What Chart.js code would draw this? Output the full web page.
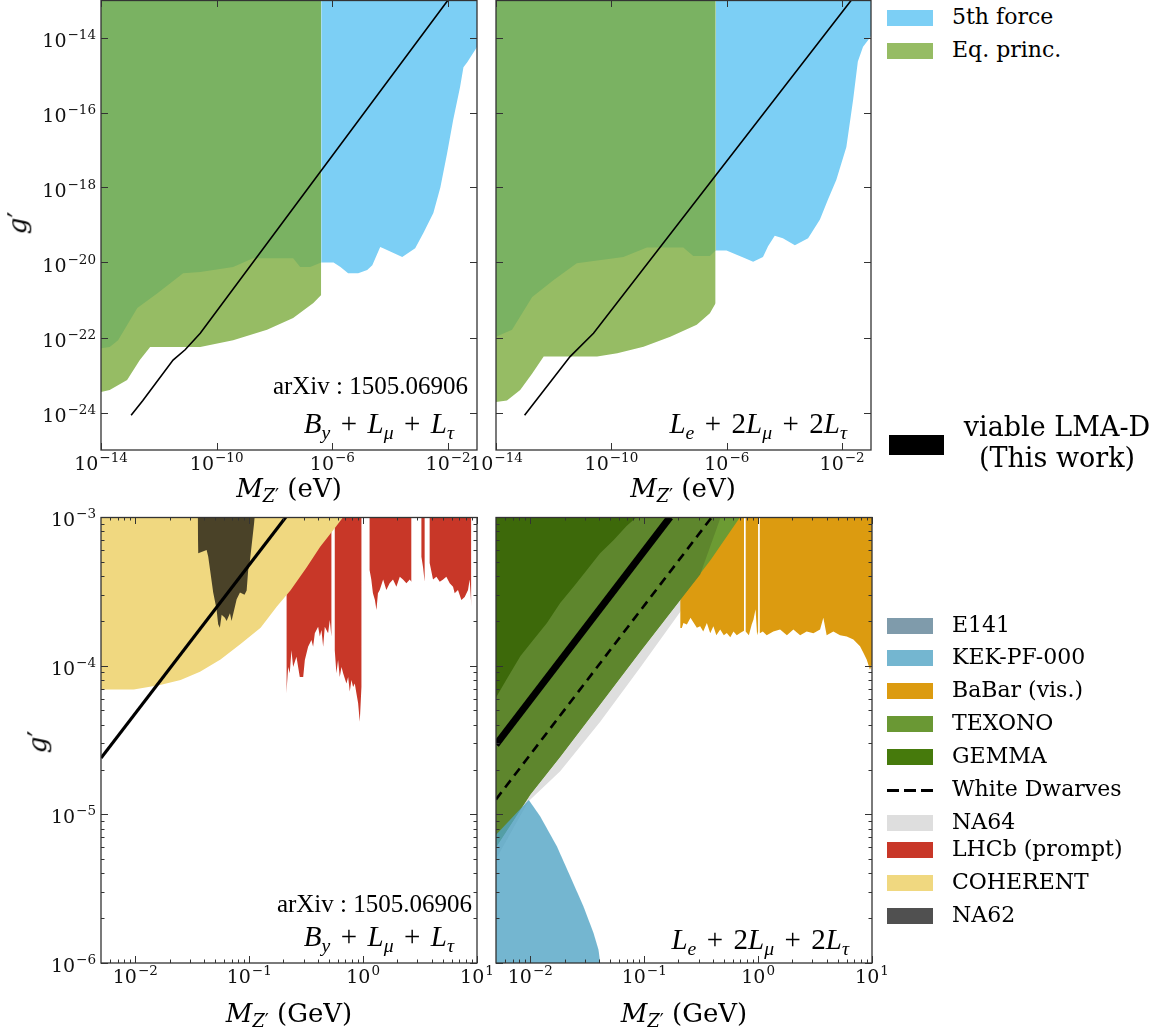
<!DOCTYPE html>
<html>
<head>
<meta charset="utf-8">
<script src="https://cdn.jsdelivr.net/npm/chart.js@4.4.0/dist/chart.umd.min.js"></script>
<style>
  body { margin: 0; background: #fff; width: 1164px; height: 1030px; position: relative; overflow: hidden; font-family: "DejaVu Serif", serif; color: #000; }
  canvas { position: absolute; }
  .txt { position: absolute; white-space: nowrap; }
  .leg { position: absolute; left: 887px; height: 22px; line-height: 22px; font-size: 22px; white-space: nowrap; }
  .leg .sw { position: absolute; left: 0; top: 2px; width: 46px; height: 16px; }
  .leg .dash { position: absolute; left: 0; top: 9px; width: 46px; height: 3px; background: repeating-linear-gradient(to right, #000 0 12px, transparent 12px 17px); }
  .leg .lb { position: absolute; left: 65px; top: -2px; }
  .math { font-family: "Liberation Serif", serif; }
  .op { margin: 0 0.36em; }
  .sub { font-size: 0.68em; position: relative; top: 0.3em; }
  .axt { font-size: 26px; text-align: center; width: 300px; }
</style>
</head>
<body>
<canvas id="tl" width="480" height="480" style="left:0;top:0"></canvas>
<canvas id="tr" width="420" height="480" style="left:460px;top:0"></canvas>
<canvas id="bl" width="500" height="500" style="left:0;top:500px"></canvas>
<canvas id="br" width="440" height="500" style="left:460px;top:500px"></canvas>

<!-- axis titles -->
<div class="txt axt" style="left:139px;top:473px"><i>M</i><span class="sub"><i>Z</i>′</span> (eV)</div>
<div class="txt axt" style="left:533px;top:473px"><i>M</i><span class="sub"><i>Z</i>′</span> (eV)</div>
<div class="txt axt" style="left:139px;top:998px"><i>M</i><span class="sub"><i>Z</i>′</span> (GeV)</div>
<div class="txt axt" style="left:534px;top:998px"><i>M</i><span class="sub"><i>Z</i>′</span> (GeV)</div>
<div class="txt" style="left:6px;top:208px;font-size:26px;transform:rotate(-90deg)"><i>g</i>′</div>
<div class="txt" style="left:26px;top:727px;font-size:26px;transform:rotate(-90deg)"><i>g</i>′</div>

<!-- panel annotations -->
<div class="txt math" style="right:696px;top:372px;font-size:25px">arXiv : 1505.06906</div>
<div class="txt math" style="right:710px;top:407px;font-size:29px"><i>B</i><span class="sub"><i>y</i></span><span class="op">+</span><i>L</i><span class="sub"><i>μ</i></span><span class="op">+</span><i>L</i><span class="sub"><i>τ</i></span></div>
<div class="txt math" style="right:317px;top:407px;font-size:29px"><i>L</i><span class="sub"><i>e</i></span><span class="op">+</span>2<i>L</i><span class="sub"><i>μ</i></span><span class="op">+</span>2<i>L</i><span class="sub"><i>τ</i></span></div>
<div class="txt math" style="right:692px;top:890px;font-size:25px">arXiv : 1505.06906</div>
<div class="txt math" style="right:710px;top:920px;font-size:29px"><i>B</i><span class="sub"><i>y</i></span><span class="op">+</span><i>L</i><span class="sub"><i>μ</i></span><span class="op">+</span><i>L</i><span class="sub"><i>τ</i></span></div>
<div class="txt math" style="right:315px;top:923px;font-size:29px"><i>L</i><span class="sub"><i>e</i></span><span class="op">+</span>2<i>L</i><span class="sub"><i>μ</i></span><span class="op">+</span>2<i>L</i><span class="sub"><i>τ</i></span></div>

<!-- legends -->
<div class="leg" style="top:8px"><span class="sw" style="background:#7ccff5"></span><span class="lb">5th force</span></div>
<div class="leg" style="top:41px"><span class="sw" style="background:#96bc64"></span><span class="lb">Eq. princ.</span></div>
<div class="txt" style="left:889px;top:435px;width:55px;height:20px;background:#000"></div>
<div class="txt" style="left:952px;top:411px;width:210px;text-align:center;font-size:27px;line-height:31px">viable LMA-D<br>(This work)</div>

<div class="leg" style="top:616px"><span class="sw" style="background:#7f9bab"></span><span class="lb">E141</span></div>
<div class="leg" style="top:648px"><span class="sw" style="background:#74b6d0"></span><span class="lb">KEK-PF-000</span></div>
<div class="leg" style="top:681px"><span class="sw" style="background:#dc9b10"></span><span class="lb">BaBar (vis.)</span></div>
<div class="leg" style="top:714px"><span class="sw" style="background:#6a9834"></span><span class="lb">TEXONO</span></div>
<div class="leg" style="top:747px"><span class="sw" style="background:#467a0c"></span><span class="lb">GEMMA</span></div>
<div class="leg" style="top:780px"><span class="dash"></span><span class="lb">White Dwarves</span></div>
<div class="leg" style="top:813px"><span class="sw" style="background:#dedede"></span><span class="lb">NA64</span></div>
<div class="leg" style="top:840px"><span class="sw" style="background:#c83728"></span><span class="lb">LHCb (prompt)</span></div>
<div class="leg" style="top:873px"><span class="sw" style="background:#f0d880"></span><span class="lb">COHERENT</span></div>
<div class="leg" style="top:906px"><span class="sw" style="background:#505050"></span><span class="lb">NA62</span></div>

<script>
// axis ranges and tick labels
const topXRange = [1e-14, 1e-1];
const topYRange = [1e-25, 1e-13];
const botXRange = [5e-3, 10];
const botYRange = [1e-6, 1e-3];
const topXTicks = [1e-14, 1e-10, 1e-6, 1e-2];
const topYTicks = [1e-24, 1e-22, 1e-20, 1e-18, 1e-16, 1e-14];
const botXTicks = [1e-2, 1e-1, 1, 10];
const botYTicks = [1e-6, 1e-5, 1e-4, 1e-3];

// top-left: B_y + L_mu + L_tau (eV)
const fifthTL_x = [4.1e-7, 1.1e-6, 1.9e-6, 3.5e-6, 7.8e-6, 1.6e-5, 2.4e-5, 4.5e-5, 5.7e-5, 1.3e-4, 2.6e-4, 7.3e-4, 1.4e-3, 3.1e-3, 5.4e-3, 9.3e-3, 1.5e-2, 2.6e-2, 3.4e-2, 4.6e-2, 1e-1];
const fifthTL_y = [1e-20, 1e-20, 7.6e-21, 5.2e-21, 5.2e-21, 6.3e-21, 8.5e-21, 2.6e-20, 2.4e-20, 1.8e-20, 1.4e-20, 2.4e-20, 6.1e-20, 2.1e-19, 1e-18, 8.3e-18, 6.3e-17, 4.8e-16, 1.6e-15, 2.2e-15, 5.6e-15];
const eqTL_x = [1e-14, 2e-14, 8e-14, 2.2e-13, 5e-13, 2.7e-11, 3.7e-10, 5.5e-9, 4.4e-8, 2.2e-7, 4.1e-7];
const eqTL_y = [3.5e-24, 4e-24, 7.4e-24, 2.5e-23, 5.6e-23, 5.6e-23, 8.5e-23, 1.6e-22, 3.3e-22, 8.3e-22, 1.35e-21];
const eqDarkTL_x = [1e-14, 2e-14, 3.9e-14, 1.8e-13, 8.7e-13, 6.9e-12, 2.7e-11, 3.7e-10, 1.8e-9, 4.4e-8, 7.7e-8, 1.7e-7, 4.1e-7];
const eqDarkTL_y = [5.2e-23, 5.6e-23, 8.5e-23, 6.1e-22, 1.5e-21, 5.2e-21, 5.6e-21, 7.6e-21, 1.3e-20, 1.3e-20, 7.6e-21, 7.6e-21, 1e-20];
const lmaTL_x = [1.1e-13, 2.8e-13, 3.1e-12, 8.1e-12, 2.7e-11, 1e-2];
const lmaTL_y = [8.5e-25, 2.1e-24, 2.5e-23, 4.7e-23, 1.3e-22, 1e-13];

// top-right: L_e + 2L_mu + 2L_tau (eV)
const fifthTR_x = [4.1e-7, 9.8e-7, 2.2e-6, 4.3e-6, 8.2e-6, 1.8e-5, 2.7e-5, 4.6e-5, 8.8e-5, 2.3e-4, 6.6e-4, 1.7e-3, 3.2e-3, 6.3e-3, 1.4e-2, 2.4e-2, 3.5e-2, 5.3e-2, 8.9e-2, 1e-1];
const fifthTR_y = [2.1e-20, 2.1e-20, 1.6e-20, 1.3e-20, 1.05e-20, 1.4e-20, 2.7e-20, 5.2e-20, 4.4e-20, 2.9e-20, 4.4e-20, 1.4e-19, 4.7e-19, 1.6e-18, 1.2e-17, 2.2e-16, 2.3e-15, 5.7e-15, 9.5e-15, 1.1e-14];
const eqTR_x = [1e-14, 2.4e-14, 6.9e-14, 1.8e-13, 4.5e-13, 3.2e-11, 1.6e-10, 1.3e-9, 1.1e-8, 9.1e-8, 2.6e-7, 4.1e-7];
const eqTR_y = [1.9e-24, 2.1e-24, 4e-24, 1.1e-23, 3.1e-23, 3.1e-23, 3.8e-23, 5.7e-23, 1.05e-22, 2.2e-22, 4.4e-22, 8.2e-22];
const eqDarkTR_x = [1e-14, 3.6e-14, 1.8e-13, 1e-12, 6.3e-12, 2.6e-10, 1.7e-9, 3.1e-8, 6.9e-8, 2.6e-7, 4.1e-7];
const eqDarkTR_y = [1.05e-22, 1.6e-22, 1.2e-21, 3.4e-21, 9.5e-21, 1.4e-20, 2.5e-20, 2.5e-20, 1.5e-20, 1.5e-20, 2.1e-20];
const lmaTR_x = [9.8e-14, 3.7e-12, 2.4e-11, 2.1e-2];
const lmaTR_y = [8.5e-25, 3.1e-23, 1.3e-22, 1e-13];

// bottom-left: B_y + L_mu + L_tau (GeV)
const coherent_x = [5e-3, 9.7e-3, 1.65e-2, 2.5e-2, 3.7e-2, 5.6e-2, 8.4e-2, 0.126, 0.175, 0.23, 0.32, 0.42, 0.55, 0.67];
const coherent_y = [6.9e-5, 6.9e-5, 7.4e-5, 8e-5, 9.1e-5, 1.1e-4, 1.4e-4, 1.8e-4, 2.5e-4, 3.2e-4, 4.6e-4, 6.3e-4, 8.2e-4, 1e-3];
const na62_x = [0.0353, 0.0357, 0.0423, 0.0437, 0.0483, 0.0517, 0.0534, 0.0553, 0.0573, 0.0612, 0.0633, 0.0678, 0.070, 0.075, 0.0776, 0.083, 0.091, 0.095, 0.098, 0.101, 0.112];
const na62_y = [1e-3, 5.7e-4, 6e-4, 5.4e-4, 3.1e-4, 2.4e-4, 1.9e-4, 1.8e-4, 2.2e-4, 2.1e-4, 2e-4, 2.25e-4, 2e-4, 2.5e-4, 2.8e-4, 3.1e-4, 3e-4, 3.2e-4, 4.4e-4, 4.9e-4, 1e-3];
const lhcb_x = [0.212, 0.212, 0.220, 0.227, 0.235, 0.243, 0.260, 0.278, 0.298, 0.308, 0.329, 0.352, 0.364, 0.377, 0.403, 0.417, 0.431, 0.446, 0.461, 0.493, 0.510, 0.527, 0.527,
  0.564, 0.564, 0.583, 0.603, 0.624, 0.646, 0.668, 0.714, 0.739, 0.764, 0.790, 0.817, 0.845, 0.874, 0.904, 0.935, 0.967, 0.967,
  1.14, 1.14, 1.18, 1.22, 1.27, 1.31, 1.35, 1.40, 1.50, 1.60, 1.71, 1.83, 1.96, 2.10, 2.24, 2.40, 2.57, 2.65, 2.65,
  3.25, 3.25, 3.36, 3.47, 3.47,
  3.84, 3.84, 4.11, 4.40, 4.71, 5.04, 5.38, 5.76, 6.16, 6.37, 6.81, 7.29, 7.80, 8.34, 8.63, 8.92, 8.92];
const lhcb_y = [1e-3, 6.5e-5, 9.8e-5, 8.9e-5, 1.27e-4, 9.8e-5, 1.15e-4, 8.4e-5, 8.4e-5, 1.09e-4, 1.34e-4, 1.49e-4, 1.34e-4, 1.65e-4, 1.83e-4, 1.57e-4, 1.74e-4, 1.34e-4, 1.83e-4, 1.65e-4, 2.03e-4, 1.57e-4, 1e-3,
  1e-3, 1.27e-4, 8.9e-5, 1.09e-4, 8.4e-5, 9.8e-5, 8.9e-5, 7.6e-5, 8.4e-5, 6.7e-5, 8e-5, 7.2e-5, 7.6e-5, 6.5e-5, 5.6e-5, 4.2e-5, 7.2e-5, 1e-3,
  1e-3, 4.4e-4, 3.8e-4, 3.07e-4, 2.77e-4, 2.37e-4, 3.07e-4, 3.23e-4, 3.8e-4, 3.23e-4, 3.58e-4, 3.8e-4, 3.4e-4, 3.97e-4, 3.8e-4, 3.58e-4, 3.8e-4, 3.67e-4, 1e-3,
  1e-3, 5.4e-4, 4.6e-4, 3.67e-4, 1e-3,
  1e-3, 4.9e-4, 3.8e-4, 3.97e-4, 3.67e-4, 3.8e-4, 3.97e-4, 3.58e-4, 3.4e-4, 3.07e-4, 3.23e-4, 2.77e-4, 2.9e-4, 3.23e-4, 3.8e-4, 2.5e-4, 1e-3];
const lmaBL_x = [5e-3, 0.21];
const lmaBL_y = [2.39e-5, 1e-3];

// bottom-right: L_e + 2L_mu + 2L_tau (GeV)
const na64_x = [5e-3, 9.6e-3, 1.83e-2, 4.11e-2, 9.2e-2, 0.207, 0.31, 0.47];
const na64_y = [5e-6, 1.22e-5, 1.95e-5, 4.2e-5, 9.7e-5, 2.3e-4, 4.1e-4, 1e-3];
const babar_x = [0.207, 0.214, 0.221, 0.237, 0.255, 0.271, 0.29, 0.31, 0.33, 0.355, 0.38, 0.405, 0.43, 0.465, 0.5, 0.531, 0.57, 0.608, 0.65, 0.695, 0.752, 0.752, 0.778, 0.778, 0.83, 0.88, 0.91, 0.95, 0.98, 1.0, 1.0, 1.035, 1.035, 1.1, 1.19, 1.36, 1.56, 1.79, 2.04, 2.34, 2.67, 3.06, 3.5, 3.74, 4.0, 4.58, 5.24, 6.0, 6.86, 7.85, 8.4, 8.98, 9.6, 10];
const babar_y = [1.79e-4, 1.79e-4, 1.94e-4, 1.89e-4, 2.1e-4, 1.95e-4, 1.8e-4, 1.84e-4, 1.7e-4, 1.94e-4, 1.65e-4, 1.84e-4, 1.6e-4, 1.75e-4, 1.6e-4, 1.66e-4, 1.55e-4, 1.7e-4, 1.6e-4, 1.66e-4, 1.72e-4, 1e-3, 1e-3, 1.7e-4, 1.6e-4, 1.9e-4, 2.04e-4, 2.4e-4, 1.6e-4, 1.7e-4, 1e-3, 1e-3, 1.65e-4, 1.7e-4, 1.6e-4, 1.7e-4, 1.75e-4, 1.6e-4, 1.75e-4, 1.6e-4, 1.7e-4, 1.65e-4, 1.75e-4, 2.1e-4, 1.6e-4, 1.7e-4, 1.6e-4, 1.57e-4, 1.5e-4, 1.35e-4, 1.22e-4, 1.1e-4, 9.4e-5, 1.02e-4];
const texono_x = [5e-3, 1e-2, 1.83e-2, 4.11e-2, 9.2e-2, 0.207, 0.387, 0.695];
const texono_y = [6e-6, 1.36e-5, 2.44e-5, 5.5e-5, 1.24e-4, 2.77e-4, 5.2e-4, 1e-3];
const texonoNa64_x = [5e-3, 1e-2, 1.83e-2, 4.11e-2, 9.2e-2, 0.207, 0.31, 0.47];
const texonoNa64_y = [6e-6, 1.36e-5, 2.44e-5, 5.5e-5, 1.24e-4, 2.77e-4, 4.1e-4, 1e-3];
const gemma_x = [5e-3, 6.2e-3, 8.2e-3, 1.07e-2, 1.4e-2, 1.83e-2, 2.4e-2, 3.14e-2, 4.1e-2, 5.4e-2, 7.0e-2, 8.6e-2];
const gemma_y = [6.1e-5, 8.1e-5, 1.16e-4, 1.5e-4, 1.94e-4, 2.64e-4, 3.4e-4, 4.4e-4, 5.7e-4, 7.0e-4, 8.7e-4, 1e-3];
const kek_x = [5e-3, 9.7e-3, 1.22e-2, 1.71e-2, 2.24e-2, 2.93e-2, 3.59e-2, 3.97e-2, 4.11e-2];
const kek_y = [7.3e-6, 1.25e-5, 9.7e-6, 6.1e-6, 3.83e-6, 2.4e-6, 1.59e-6, 1.23e-6, 1e-6];
const wd_x = [5e-3, 0.393];
const wd_y = [1.26e-5, 1e-3];
const lmaBR_x = [5e-3, 0.169];
const lmaBR_y = [2.94e-5, 1e-3];

function pts(xs, ys) {
    return xs.map((x, i) => ({ x: x, y: ys[i] }));
}

function region(label, xs, ys, color, fill) {
    return { label, data: pts(xs, ys), backgroundColor: color, borderWidth: 0, pointRadius: 0, fill: fill || 'end', tension: 0 };
}

function curve(label, xs, ys, width, dash) {
    return { label, data: pts(xs, ys), borderColor: '#000', borderWidth: width, borderDash: dash || [], pointRadius: 0, fill: false, tension: 0, borderCapStyle: 'butt' };
}

function minorsOf(range) {
    const out = [];
    for (let e = Math.floor(Math.log10(range[0])); e <= Math.ceil(Math.log10(range[1])); e++) {
        for (let k = 2; k <= 9; k++) {
            const v = k * Math.pow(10, e);
            if (v > range[0] && v < range[1]) out.push(v);
        }
    }
    return out;
}

// "10" with a raised exponent, like matplotlib's log labels
function drawPow(ctx, v, px, py, side) {
    const base = '19px "DejaVu Serif"', sup = '13.5px "DejaVu Serif"';
    const e = String(Math.round(Math.log10(v))).replace('-', '\u2212');
    ctx.font = base;
    const wb = ctx.measureText('10').width;
    ctx.font = sup;
    const we = ctx.measureText(e).width;
    let x0, yb;
    if (side === 'y') { x0 = px - 5 - wb - we - 1; yb = py + 9; }
    else { x0 = px - (wb + we + 1) / 2; yb = py + 20; }
    ctx.fillStyle = '#111';
    ctx.textAlign = 'left';
    ctx.textBaseline = 'alphabetic';
    ctx.font = base;
    ctx.fillText('10', x0, yb);
    ctx.font = sup;
    ctx.fillText(e, x0 + wb + 1, yb - 8);
}

// inward ticks on all four sides, the frame and the tick labels
const inTicks = {
    id: 'inTicks',
    afterDatasetsDraw(chart, args, o) {
        const { ctx, chartArea: a, scales } = chart;
        ctx.save();
        ctx.strokeStyle = '#333';
        ctx.lineWidth = 1;
        ctx.beginPath();
        const xt = (v, len) => {
            const p = Math.round(scales.x.getPixelForValue(v)) + 0.5;
            ctx.moveTo(p, a.bottom); ctx.lineTo(p, a.bottom - len);
            ctx.moveTo(p, a.top); ctx.lineTo(p, a.top + len);
        };
        const yt = (v, len) => {
            const p = Math.round(scales.y.getPixelForValue(v)) + 0.5;
            ctx.moveTo(a.left, p); ctx.lineTo(a.left + len, p);
            ctx.moveTo(a.right, p); ctx.lineTo(a.right - len, p);
        };
        scales.x.ticks.forEach(t => xt(t.value, 7));
        scales.y.ticks.forEach(t => yt(t.value, 7));
        (o.xMinor || []).forEach(v => xt(v, 3.5));
        (o.yMinor || []).forEach(v => yt(v, 3.5));
        ctx.stroke();
        ctx.lineWidth = 1.3;
        ctx.strokeRect(a.left, a.top + 0.5, a.right - a.left, a.bottom - a.top - 0.5);
        scales.x.ticks.forEach(t => drawPow(ctx, t.value, scales.x.getPixelForValue(t.value), a.bottom, 'x'));
        if (o.showY) scales.y.ticks.forEach(t => drawPow(ctx, t.value, a.left, scales.y.getPixelForValue(t.value), 'y'));
        ctx.restore();
    }
};

function makePanel(id, layers, cfg) {
    new Chart(document.getElementById(id), {
        type: 'line',
        data: { datasets: layers.slice().reverse() },
        options: {
            responsive: false,
            animation: false,
            layout: { padding: { left: 0, right: cfg.padRight, top: cfg.padTop, bottom: 0 } },
            plugins: {
                legend: { display: false },
                tooltip: { enabled: false },
                inTicks: { xMinor: cfg.xMinor, yMinor: cfg.yMinor, showY: cfg.showY }
            },
            scales: {
                x: {
                    type: 'logarithmic', min: cfg.xRange[0], max: cfg.xRange[1],
                    grid: { display: false, drawTicks: false }, border: { display: false },
                    afterBuildTicks: s => { s.ticks = cfg.xTicks.map(v => ({ value: v })); },
                    afterFit: s => { s.height = cfg.xHeight; s.paddingLeft = 0; s.paddingRight = 0; },
                    ticks: { display: false }
                },
                y: {
                    type: 'logarithmic', min: cfg.yRange[0], max: cfg.yRange[1],
                    grid: { display: false, drawTicks: false }, border: { display: false },
                    afterBuildTicks: s => { s.ticks = cfg.yTicks.map(v => ({ value: v })); },
                    afterFit: s => { s.width = cfg.yWidth; s.paddingTop = 0; s.paddingBottom = 0; },
                    ticks: { display: false }
                }
            }
        },
        plugins: [inTicks]
    });
}

// layers are listed bottom to top
makePanel('tl', [
    region('5th force', fifthTL_x, fifthTL_y, '#7ccff5'),
    region('Eq. princ.', eqTL_x, eqTL_y, '#96bc64'),
    region('Eq. princ. (2)', eqDarkTL_x, eqDarkTL_y, '#7ab262'),
    curve('viable LMA-D', lmaTL_x, lmaTL_y, 1.6)
], { xRange: topXRange, yRange: topYRange, xTicks: topXTicks, yTicks: topYTicks, padTop: 0, padRight: 3, xHeight: 30, yWidth: 101, showY: true });

makePanel('tr', [
    region('5th force', fifthTR_x, fifthTR_y, '#7ccff5'),
    region('Eq. princ.', eqTR_x, eqTR_y, '#96bc64'),
    region('Eq. princ. (2)', eqDarkTR_x, eqDarkTR_y, '#7ab262'),
    curve('viable LMA-D', lmaTR_x, lmaTR_y, 1.6)
], { xRange: topXRange, yRange: topYRange, xTicks: topXTicks, yTicks: topYTicks, padTop: 0, padRight: 9, xHeight: 30, yWidth: 36, showY: false });

makePanel('bl', [
    region('LHCb (prompt)', lhcb_x, lhcb_y, '#c83728'),
    region('COHERENT', coherent_x, coherent_y, '#f0d880'),
    region('NA62', na62_x, na62_y, '#4a4228'),
    curve('viable LMA-D', lmaBL_x, lmaBL_y, 3.2)
], { xRange: botXRange, yRange: botYRange, xTicks: botXTicks, yTicks: botYTicks, xMinor: minorsOf(botXRange), yMinor: minorsOf(botYRange), padTop: 17, padRight: 23, xHeight: 37, yWidth: 101, showY: true });

makePanel('br', [
    region('NA64', na64_x, na64_y, '#dedede'),
    region('BaBar (vis.)', babar_x, babar_y, '#dc9b10'),
    region('TEXONO', texono_x, texono_y, '#6c9b33'),
    region('TEXONO over NA64', texonoNa64_x, texonoNa64_y, '#5e862d'),
    region('GEMMA', gemma_x, gemma_y, '#3d690a'),
    region('KEK-PF-000', kek_x, kek_y, 'rgba(81,164,196,0.8)', 'start'),
    curve('White Dwarves', wd_x, wd_y, 2.6, [9, 6]),
    curve('viable LMA-D', lmaBR_x, lmaBR_y, 7)
], { xRange: botXRange, yRange: botYRange, xTicks: botXTicks, yTicks: botYTicks, xMinor: minorsOf(botXRange), yMinor: minorsOf(botYRange), padTop: 17, padRight: 28, xHeight: 37, yWidth: 36, showY: false });
</script>
</body>
</html>
